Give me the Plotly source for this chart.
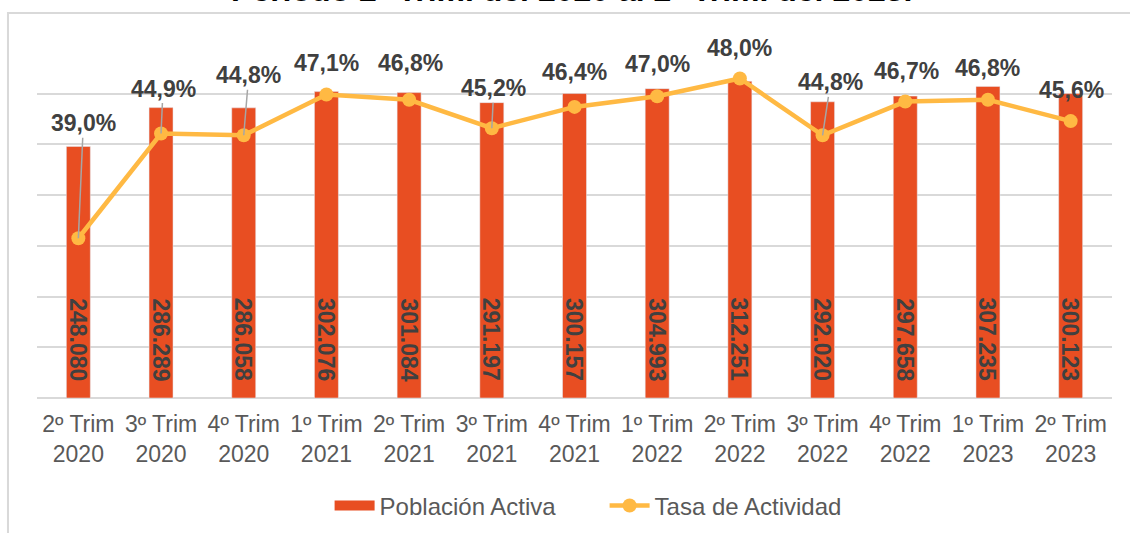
import plotly.graph_objects as go

# data
trimestres = ["2º Trim<br>2020", "3º Trim<br>2020", "4º Trim<br>2020", "1º Trim<br>2021",
              "2º Trim<br>2021", "3º Trim<br>2021", "4º Trim<br>2021", "1º Trim<br>2022",
              "2º Trim<br>2022", "3º Trim<br>2022", "4º Trim<br>2022", "1º Trim<br>2023",
              "2º Trim<br>2023"]
poblacion_activa = [248080, 286289, 286058, 302076, 301084, 291197, 300157,
                    304993, 312251, 292020, 297658, 307235, 300123]
tasa_actividad = [39.0, 44.9, 44.8, 47.1, 46.8, 45.2, 46.4, 47.0, 48.0, 44.8, 46.7, 46.8, 45.6]

titulo = "Período 2º Trim. del 2020 al 2º Trim. del 2023."

BAR_COLOR = "#E84E22"
LINE_COLOR = "#FFB943"
LABEL_COLOR = "#404040"
AXIS_TEXT = "#595959"
GRID = "#D9D9D9"
FONT = "Liberation Sans, Arial, sans-serif"

# label placement (pixel offsets from each point), leader line shown or not
label_dx = [5, 2, 5, 0, 1, 2, 0, 0, 0, 8, 1, 0, 1]
label_dy = [-115, -45, -60, -31, -37, -40, -35, -32, -31, -53, -31, -32, -31]
leader = [True, True, True, False, False, True, False, False, False, True, False, False, False]

fig = go.Figure()

fig.add_trace(go.Bar(
    x=trimestres,
    y=poblacion_activa,
    name="Población Activa",
    marker_color=BAR_COLOR,
    legendgroup="pob",
    showlegend=False,
    yaxis="y"
))

# wide swatch for the bar series in the legend (Excel style)
fig.add_trace(go.Scatter(
    x=[None], y=[None],
    name="Población Activa",
    mode="lines",
    line=dict(color=BAR_COLOR, width=10),
    legendgroup="pob"
))

fig.add_trace(go.Scatter(
    x=trimestres,
    y=tasa_actividad,
    name="Tasa de Actividad",
    mode="lines+markers",
    line=dict(color=LINE_COLOR, width=4.5),
    marker=dict(color=LINE_COLOR, size=14),
    yaxis="y2"
))

annotations = []
for cat, v in zip(trimestres, poblacion_activa):
    annotations.append(dict(
        x=cat, y=0, xref="x", yref="y",
        text=f"{v:,}".replace(",", "."),
        textangle=90, showarrow=False,
        yanchor="bottom", yshift=15,
        font=dict(family=FONT, size=23, color=LABEL_COLOR, weight="bold")
    ))

for cat, v, dx, dy, ld in zip(trimestres, tasa_actividad, label_dx, label_dy, leader):
    annotations.append(dict(
        x=cat, y=v, xref="x", yref="y2",
        text=f"{v:.1f}%".replace(".", ","),
        showarrow=True, ax=dx, ay=dy,
        arrowhead=0, arrowwidth=1.5, standoff=0,
        arrowcolor="#A6A6A6" if ld else "rgba(0,0,0,0)",
        font=dict(family=FONT, size=23, color=LABEL_COLOR, weight="bold")
    ))

# title, cut at the top like the original
annotations.append(dict(
    x=0.497, y=1.149, xref="paper", yref="paper",
    text=titulo, showarrow=False, yanchor="middle",
    font=dict(family=FONT, size=32, color="#000000", weight="bold")
))

fig.update_layout(
    width=1130,
    height=533,
    margin=dict(l=37, r=18, t=43, b=135, autoexpand=False),
    paper_bgcolor="white",
    plot_bgcolor="white",
    font=dict(family=FONT, color=AXIS_TEXT, size=22),
    bargap=0.71,
    xaxis=dict(
        range=[-0.5, 12.5],
        tickfont=dict(size=23, color=AXIS_TEXT),
        ticklabelstandoff=10,
        showgrid=False,
        showline=False,
        ticks=""
    ),
    yaxis=dict(
        range=[0, 350000],
        dtick=50000,
        showticklabels=False,
        gridcolor=GRID,
        gridwidth=1.5,
        zeroline=True,
        zerolinecolor=GRID,
        zerolinewidth=1.5
    ),
    yaxis2=dict(
        range=[30, 50],
        overlaying="y",
        side="right",
        showgrid=False,
        showticklabels=False,
        zeroline=False
    ),
    legend=dict(
        orientation="h",
        x=0.528, xanchor="center",
        y=-0.304, yanchor="middle",
        font=dict(size=24, color=AXIS_TEXT),
        itemwidth=40,
        entrywidth=220
    ),
    annotations=annotations,
    shapes=[dict(
        type="rect", xref="paper", yref="paper",
        x0=-0.027, y0=1.0845, x1=1.2, y1=-0.6,
        line=dict(color=GRID, width=2), layer="below"
    )]
)

# page body has an 8px default margin; drop it so the chart sits at the corner
fig.write_html("out.html", config={"displayModeBar": False},
               post_script="document.body.style.margin='0px';")
